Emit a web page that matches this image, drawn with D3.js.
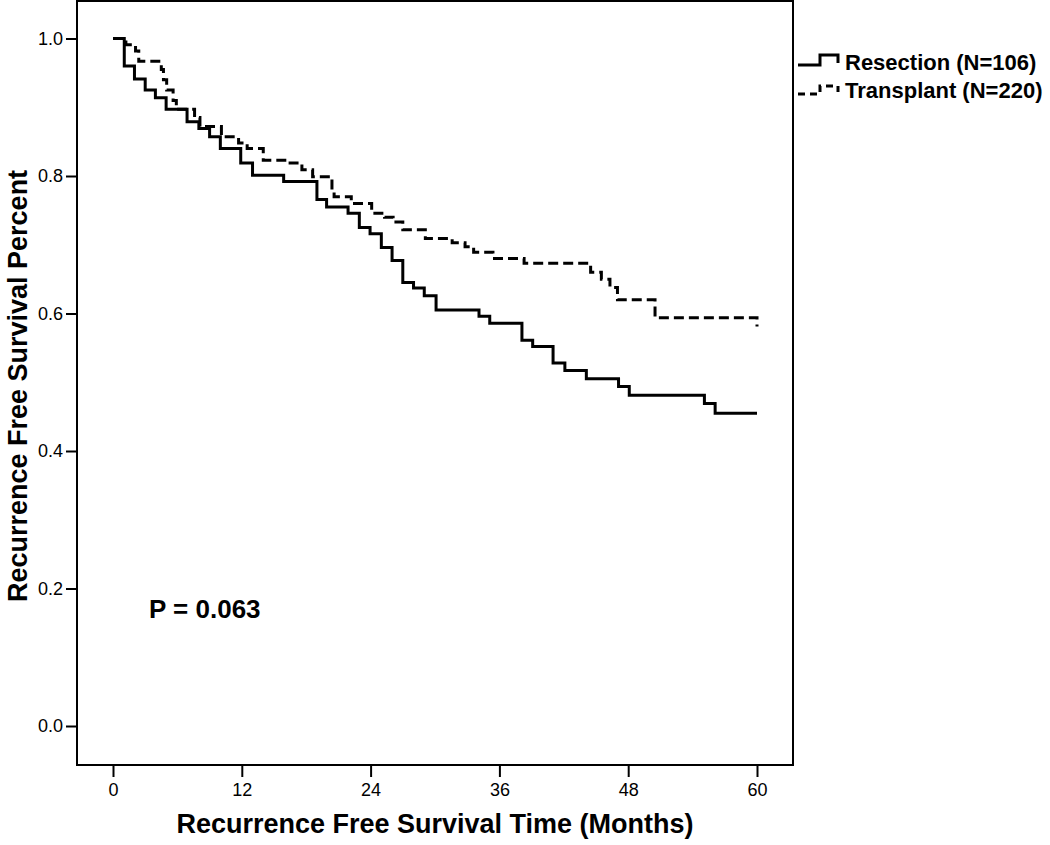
<!DOCTYPE html>
<html><head><meta charset="utf-8">
<script src="https://cdn.jsdelivr.net/npm/d3@7"></script>
<style>body{margin:0;background:#fff}svg{display:block}</style>
</head><body>
<svg id="chart" width="1050" height="845"></svg>
<script>
// ---- data ----
const xTicks = [0, 12, 24, 36, 48, 60];
const yTicks = [0.0, 0.2, 0.4, 0.6, 0.8, 1.0];

const resectionTimes = [0,1.05,2.0,3.0,3.95,4.95,6.9,8.0,9.0,10.0,11.9,13.0,15.9,19.0,19.9,21.9,22.95,23.95,25.0,26.0,27.0,28.0,29.0,30.1,34.1,35.1,38.1,39.1,41.0,42.1,44.1,47.1,48.1,55.1,56.1,60];
const resectionSurv  = [1.0,0.960,0.941,0.925,0.914,0.897,0.879,0.869,0.857,0.840,0.819,0.801,0.792,0.766,0.755,0.746,0.725,0.716,0.696,0.677,0.645,0.637,0.626,0.605,0.596,0.586,0.561,0.552,0.528,0.517,0.505,0.494,0.481,0.469,0.455,0.455];

const transplantTimes = [0,1.2,2.1,2.4,4.5,4.7,5.0,5.6,5.9,7.6,8.1,10.1,11.7,12.5,14.0,16.5,17.6,18.6,20.4,20.6,22.2,24.1,25.3,26.1,27.0,29.1,31.6,32.8,33.6,35.4,38.3,44.5,45.5,46.3,47.0,50.5,60];
const transplantSurv  = [1.0,0.991,0.982,0.967,0.955,0.940,0.925,0.910,0.897,0.885,0.872,0.857,0.848,0.840,0.823,0.819,0.809,0.799,0.780,0.770,0.760,0.746,0.740,0.733,0.722,0.709,0.703,0.697,0.689,0.680,0.673,0.660,0.650,0.638,0.620,0.594,0.581];

const seriesNames = ["Resection (N=106)", "Transplant (N=220)"];
const pValueText = "P = 0.063";
const xTitle = "Recurrence Free Survival Time (Months)";
const yTitle = "Recurrence Free Survival Percent";

// ---- layout ----
const svg = d3.select("#chart");
const font = "'Liberation Sans', Arial, Helvetica, sans-serif";
const frame = {x0: 77, y0: 1, x1: 793, y1: 765};

const x = d3.scaleLinear().domain([0, 60]).range([113, 757]);
const y = d3.scaleLinear().domain([0, 1]).range([726, 38.5]);

// frame
svg.append("rect")
  .attr("x", frame.x0).attr("y", frame.y0)
  .attr("width", frame.x1 - frame.x0).attr("height", frame.y1 - frame.y0)
  .attr("fill", "none").attr("stroke", "#000").attr("stroke-width", 2);

// y axis
const yAxis = d3.axisLeft(y).tickValues(yTicks).tickFormat(d3.format(".1f")).tickSize(11).tickPadding(3);
const gy = svg.append("g").attr("transform", `translate(${frame.x0},0)`).call(yAxis);
gy.select(".domain").remove();
gy.selectAll(".tick line").attr("stroke", "#000").attr("stroke-width", 2);
gy.selectAll(".tick text").attr("font-family", font).attr("font-size", 18).attr("fill", "#000");

// x axis
const xAxis = d3.axisBottom(x).tickValues(xTicks).tickFormat(d3.format("d")).tickSize(12).tickPadding(6);
const gx = svg.append("g").attr("transform", `translate(0,${frame.y1})`).call(xAxis);
gx.select(".domain").remove();
gx.selectAll(".tick line").attr("stroke", "#000").attr("stroke-width", 2);
gx.selectAll(".tick text").attr("font-family", font).attr("font-size", 18).attr("fill", "#000");

// curves
const line = d3.line().x(d => x(d[0])).y(d => y(d[1])).curve(d3.curveStepAfter);
const resData = resectionTimes.map((t, i) => [t, resectionSurv[i]]);
const trData = transplantTimes.map((t, i) => [t, transplantSurv[i]]);

svg.append("path").datum(trData).attr("d", line)
  .attr("fill", "none").attr("stroke", "#000").attr("stroke-width", 3)
  .attr("stroke-dasharray", "10,5");
svg.append("path").datum(resData).attr("d", line)
  .attr("fill", "none").attr("stroke", "#000").attr("stroke-width", 3);

// titles
svg.append("text").attr("x", (frame.x0 + frame.x1) / 2).attr("y", 833)
  .attr("text-anchor", "middle").attr("font-family", font).attr("font-weight", "bold")
  .attr("font-size", 27).text(xTitle);
svg.append("text").attr("transform", `translate(27,386) rotate(-90)`)
  .attr("text-anchor", "middle").attr("font-family", font).attr("font-weight", "bold")
  .attr("font-size", 27).text(yTitle);

// p value
svg.append("text").attr("x", 149).attr("y", 618)
  .attr("font-family", font).attr("font-weight", "bold").attr("font-size", 26).text(pValueText);

// legend
const legendBottom = [65, 94];
const legendTop = [55, 86];
const legendDash = [null, "7,5"];
seriesNames.forEach((name, i) => {
  svg.append("path")
    .attr("d", `M798,${legendBottom[i]} H820 V${legendTop[i]} H838 V${legendBottom[i] - 2}`)
    .attr("fill", "none").attr("stroke", "#000").attr("stroke-width", 3)
    .attr("stroke-dasharray", legendDash[i]);
  svg.append("text").attr("x", 845).attr("y", [70, 98][i])
    .attr("font-family", font).attr("font-weight", "bold").attr("font-size", 22)
    .text(name);
});
</script>
</body></html>
